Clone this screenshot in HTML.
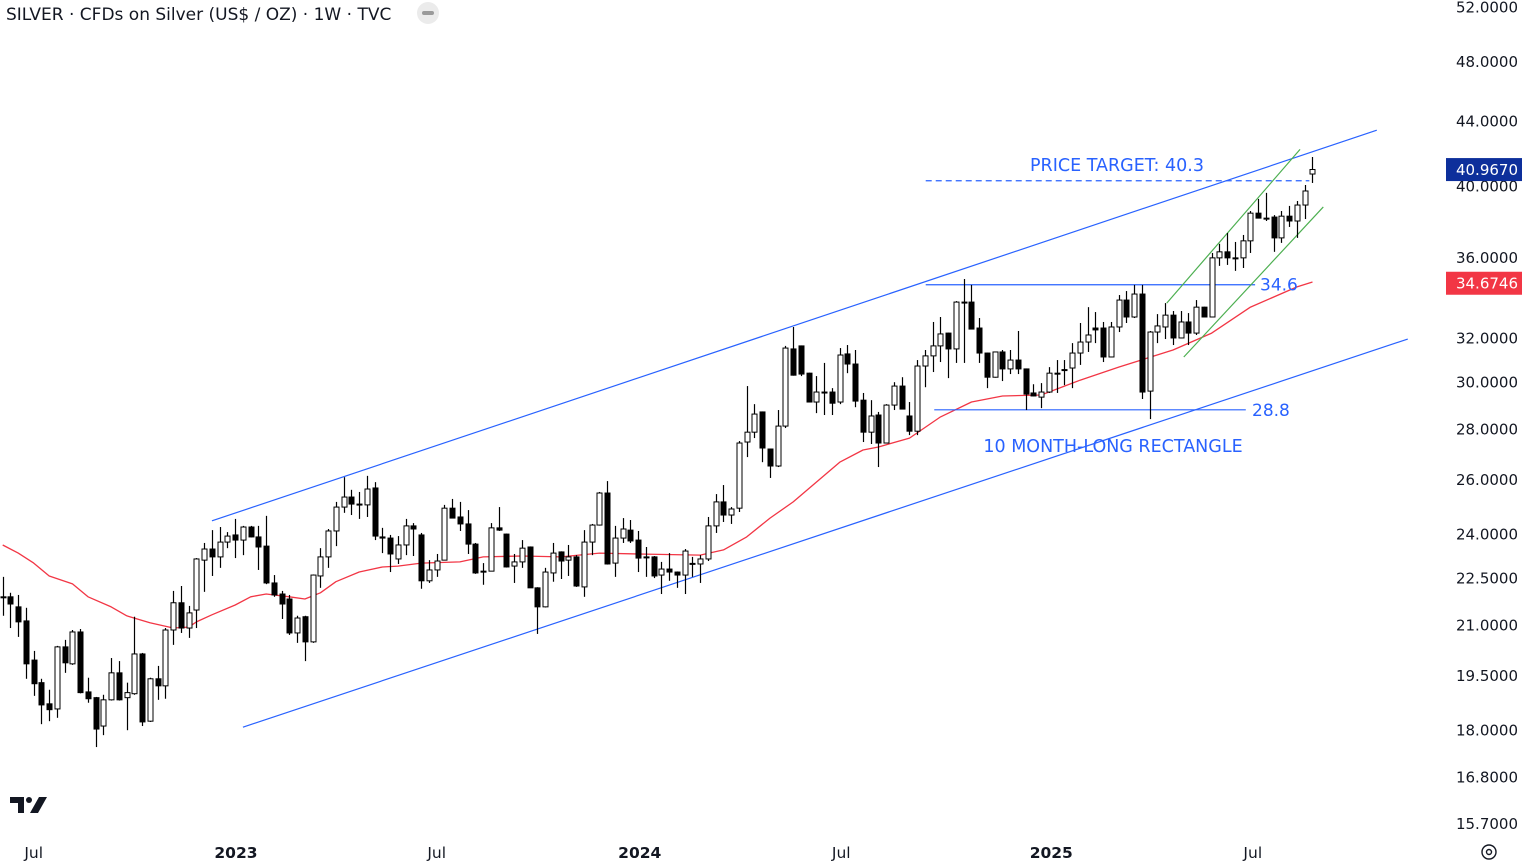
<!DOCTYPE html>
<html><head><meta charset="utf-8">
<style>
html,body{margin:0;padding:0;background:#fff;}
#wrap{position:relative;width:1522px;height:863px;overflow:hidden;font-family:"DejaVu Sans","Liberation Sans",sans-serif;}
svg text{font-family:"DejaVu Sans","Liberation Sans",sans-serif;}
</style></head>
<body>
<div id="wrap">
<svg id="chart" width="1522" height="863" xmlns="http://www.w3.org/2000/svg">
  <text x="6" y="20" font-size="17" fill="#131722">SILVER · CFDs on Silver (US$ / OZ) · 1W · TVC</text>
  <g>
    <circle cx="428" cy="13" r="11" fill="#ebebeb"/>
    <rect x="422" y="11" width="12" height="4" rx="2" fill="#9a9a9a"/>
  </g>
  <g fill="#131722">
    <path d="M10 797h14v16h-6v-10h-8z"/>
    <circle cx="29" cy="800" r="3"/>
    <path d="M39 797h8l-9 16h-8z"/>
  </g>
  <g fill="none" stroke="#131722" stroke-width="1.4">
    <circle cx="1489" cy="852" r="7"/>
    <circle cx="1489" cy="852" r="2.5"/>
  </g>
</svg>
</div>
<script>
// ---- data (weekly OHLC, index 0 = first visible week) ----
const opens  = [21.89,21.89,21.57,21.13,19.95,19.30,18.71,18.57,20.34,19.84,20.79,19.04,18.88,18.11,18.82,19.58,18.88,18.99,20.13,18.24,19.41,19.21,20.85,21.70,20.91,21.47,23.10,23.48,23.21,23.72,23.97,23.79,24.25,23.90,23.58,22.34,21.98,21.82,20.76,21.26,20.49,22.57,23.21,24.11,24.97,25.34,25.08,25.05,25.68,23.90,23.86,23.14,23.62,24.29,23.97,22.41,22.77,23.10,24.93,24.61,24.36,23.65,22.73,22.73,24.22,24.00,22.90,23.04,23.55,22.18,21.57,22.67,23.38,23.10,23.21,22.21,23.72,24.32,25.49,23.00,23.86,24.14,23.79,23.21,23.21,22.60,22.80,22.70,22.60,22.97,22.97,23.14,24.29,25.16,24.68,24.93,27.47,27.87,28.71,27.19,26.52,28.12,31.49,31.63,30.39,29.13,29.56,29.56,29.13,31.26,30.80,29.21,27.87,28.58,27.43,29.00,29.82,28.54,27.91,30.71,31.17,31.63,32.23,31.49,33.73,33.73,32.47,31.30,30.21,31.35,30.58,30.98,30.58,29.52,29.34,29.56,30.39,30.53,30.62,31.30,31.81,32.47,32.47,31.12,32.52,33.83,33.00,34.13,29.60,32.28,32.52,33.09,32.00,32.76,32.23,33.48,33.00,35.99,36.31,35.99,35.99,36.90,38.43,38.15,38.21,37.06,38.26,37.99,38.89,40.70];
const highs  = [22.54,22.02,21.95,21.54,20.22,19.41,19.10,20.37,20.55,20.85,20.88,19.44,18.90,18.96,20.01,19.92,19.30,21.26,20.16,19.44,19.78,20.91,22.08,22.24,21.60,23.17,23.69,24.14,24.25,24.07,24.54,24.29,24.29,24.29,24.65,22.60,22.08,21.95,21.29,21.29,22.62,23.51,24.18,25.16,26.09,25.61,25.53,26.14,25.90,24.22,23.97,23.93,24.54,24.39,24.04,23.10,23.31,25.05,25.27,25.16,24.86,23.69,23.00,24.39,24.97,24.02,23.31,23.79,23.57,22.20,22.84,23.69,23.40,23.62,23.27,24.14,24.36,25.53,25.94,24.29,24.57,24.50,24.11,23.55,23.24,23.04,23.34,22.72,23.48,23.21,23.27,24.61,25.45,25.79,24.97,27.51,29.82,29.04,28.73,27.21,28.79,31.63,32.52,31.65,30.41,30.26,30.85,29.73,31.53,31.67,31.44,29.52,29.21,28.71,29.04,29.99,30.21,29.13,30.98,31.44,32.76,33.00,32.25,33.78,34.89,34.59,32.95,31.32,31.37,31.44,31.44,32.33,30.60,29.90,29.95,30.66,30.98,30.98,31.76,32.71,33.48,33.24,32.76,32.76,34.08,34.28,34.59,34.59,32.33,33.14,33.68,33.29,33.29,33.19,33.83,33.50,36.25,36.74,37.33,36.84,37.22,38.55,39.24,39.59,38.32,38.55,38.84,39.12,40.05,41.73];
const lows   = [21.29,20.91,20.64,19.41,18.93,18.16,18.24,18.33,19.58,19.81,19.00,18.74,17.56,17.87,18.80,18.80,18.00,18.96,18.11,18.22,18.82,18.85,20.40,20.76,20.61,20.91,22.05,22.57,22.84,23.51,23.17,23.27,23.88,22.77,22.30,21.89,21.19,20.70,20.46,19.92,20.46,22.18,22.84,23.58,24.76,24.68,24.54,24.61,23.79,23.34,22.70,22.97,23.27,23.24,22.15,22.34,22.54,23.10,24.57,24.11,23.31,22.64,22.28,22.73,24.11,22.85,22.34,22.84,22.18,20.73,21.55,22.38,22.47,22.57,22.21,21.89,23.27,24.30,22.95,22.54,23.69,23.69,22.70,22.54,22.50,21.98,22.41,22.18,21.98,22.54,22.34,23.07,24.04,24.43,24.36,24.79,26.87,27.63,26.67,26.06,26.48,28.04,30.28,30.26,29.11,28.66,28.58,28.58,29.04,30.39,28.91,27.47,27.39,26.48,27.41,28.79,28.83,27.75,27.75,29.77,30.44,30.89,30.17,30.85,30.85,32.40,30.85,29.73,30.19,30.04,30.35,30.35,28.79,29.37,28.87,29.52,29.52,29.86,29.73,30.76,31.35,31.76,30.89,31.10,32.28,32.71,32.95,29.26,28.41,31.76,31.95,31.67,31.98,31.67,32.14,33.00,32.98,35.57,35.62,35.31,35.46,36.25,38.13,37.99,36.31,36.79,37.66,37.06,38.10,40.17];
const closes = [21.86,21.66,21.10,19.84,19.27,18.68,18.55,20.34,19.87,20.79,19.02,18.85,18.03,18.82,19.58,18.82,19.02,20.13,18.22,19.41,19.21,20.85,21.70,20.91,21.38,23.14,23.48,23.21,23.72,23.93,23.79,24.25,23.90,23.55,22.34,21.95,21.66,20.76,21.22,20.49,22.60,23.21,24.11,24.97,25.34,25.08,25.05,25.64,23.93,23.86,23.31,23.62,24.29,24.18,22.41,22.77,23.07,24.93,24.57,24.36,23.65,22.67,22.70,24.22,24.14,22.87,23.04,23.51,22.18,21.57,22.70,23.34,23.07,23.21,22.24,23.72,24.32,25.49,22.97,23.86,24.18,23.76,23.17,23.19,22.57,22.80,22.70,22.60,23.41,22.99,23.14,24.29,25.16,24.68,24.90,27.43,27.87,28.62,27.23,26.52,28.12,31.53,30.30,30.35,29.13,29.56,29.52,29.08,31.21,30.80,29.17,27.87,28.54,27.43,29.00,29.82,28.83,27.91,30.71,31.17,31.63,32.19,31.49,33.73,33.71,32.42,31.30,30.21,31.35,30.58,30.98,30.58,29.47,29.39,29.56,30.39,30.35,30.55,31.30,31.81,32.14,32.38,31.12,32.52,33.83,33.00,34.13,29.56,32.28,32.57,33.09,32.00,32.76,32.23,33.48,33.00,35.99,36.31,35.99,35.97,36.90,38.43,38.15,38.13,37.06,38.26,37.99,38.89,39.70,40.97];
// moving average (read at selected week indices)
const maIdx = [0,2,4,6,9,11,14,16,19,22,24,25,27,30,32,34,37,39,41,43,46,49,51,54,59,62,67,72,77,82,90,93,96,99,102,108,111,113,117,121,125,129,134,139,144,151,156,161,167,169];
const maVal = [23.62,23.34,23.00,22.57,22.31,21.89,21.57,21.29,21.07,20.91,20.94,21.10,21.32,21.63,21.89,21.98,21.89,21.82,22.02,22.38,22.70,22.87,22.90,23.00,23.04,23.21,23.24,23.21,23.34,23.31,23.27,23.45,23.90,24.57,25.16,26.67,27.15,27.27,27.63,28.50,29.13,29.39,29.43,30.08,30.66,31.44,32.23,33.48,34.49,34.74];
// price-axis ticks
const tickPrices = [52,48,44,40,36,32,30,28,26,24,22.5,21,19.5,18,16.8,15.7];
const tickLabels = ["52.0000","48.0000","44.0000","40.0000","36.0000","32.0000","30.0000","28.0000","26.0000","24.0000","22.5000","21.0000","19.5000","18.0000","16.8000","15.7000"];
// time-axis labels (week index)
const timeIdx = [4.0,30.1,56.0,82.2,108.2,135.3,161.3];
const timeLabels = ["Jul","2023","Jul","2024","Jul","2025","Jul"];
const timeBold = [false,true,false,true,false,true,false];
// annotation lines: [startIdx, startPrice, endIdx, endPrice]
const upperChannel = [27.0,24.47,177.3,43.40];
const lowerChannel = [31.0,18.08,181.3,31.95];
const resistance = [119.1,34.6,161.6,34.6];
const support = [120.2,28.8,160.4,28.8];
const target = [119.1,40.3,168.6,40.3];
const greenUpper = [150.2,33.68,167.4,42.2];
const greenLower = [152.4,31.12,170.4,38.78];
const lastPrice = 40.967;
const maLast = 34.6746;

// ---- scales ----
const X0 = 2.7, DX = 7.75;
function xs(i){ return X0 + DX*i; }
function ys(p){ return 7 + 681.7*Math.log(52/p); }

const svg = document.getElementById('chart');
const NS = 'http://www.w3.org/2000/svg';
function mk(tag, attrs, parent){
  const e = document.createElementNS(NS, tag);
  for (const k in attrs) e.setAttribute(k, attrs[k]);
  (parent||svg).appendChild(e);
  return e;
}

// price axis labels
const axisG = mk('g', {});


tickPrices.forEach((p,k)=>{
  const t = mk('text', {x:1518, y:ys(p)+5.5, 'text-anchor':'end', 'font-size':15, fill:'#131722'}, axisG);
  t.textContent = tickLabels[k];
  
  
});
// time axis labels
const timeG = mk('g', {});


timeIdx.forEach((i,k)=>{
  const t = mk('text', {x:xs(i), y:858, 'text-anchor':'middle', 'font-size':15.5, fill:'#131722', 'font-weight': timeBold[k]?'bold':'normal'}, timeG);
  t.textContent = timeLabels[k];
  
  
});

// moving average line
let d = '';
maIdx.forEach((i,k)=>{ d += (k?'L':'M') + xs(i).toFixed(1) + ' ' + ys(maVal[k]).toFixed(1); });
const ma = mk('path', {d:d, fill:'none', stroke:'#f23645', 'stroke-width':1.3, 'stroke-linejoin':'round'});



// annotation lines
function seg(a, color, name, dash){
  const l = mk('line', {x1:xs(a[0]), y1:ys(a[1]), x2:xs(a[2]), y2:ys(a[3]), stroke:color, 'stroke-width':1.2});
  if (dash) l.setAttribute('stroke-dasharray', dash);
  
  
}
seg(upperChannel, '#2962ff', 'upper-channel-line');
seg(lowerChannel, '#2962ff', 'lower-channel-line');
seg(resistance, '#2962ff', 'resistance-line-34-6');
seg(support, '#2962ff', 'support-line-28-8');
seg(target, '#2962ff', 'price-target-line', '6 4');
seg(greenUpper, '#4caf50', 'flag-upper-line');
seg(greenLower, '#4caf50', 'flag-lower-line');

// candles
const cg = mk('g', {});


closes.forEach((c,i)=>{
  const o = opens[i], h = highs[i], l = lows[i];
  const x = Math.round(xs(i)) + 0.5;
  const up = c >= o;
  const g = mk('g', {}, cg);
  
  
  const top = ys(Math.max(o,c)), bot = ys(Math.min(o,c));
  mk('line', {x1:x, y1:ys(h), x2:x, y2:top, stroke:'#000', 'stroke-width':1.2}, g);
  mk('line', {x1:x, y1:bot, x2:x, y2:ys(l), stroke:'#000', 'stroke-width':1.2}, g);
  const bh = Math.max(bot-top, 1);
  mk('rect', {x:x-2.5, y:top, width:5, height:bh, fill: up?'#fff':'#000', stroke:'#000', 'stroke-width':1}, g);
});

// text annotations
function label(txt, x, y, name, size, anchor){
  const t = mk('text', {x:x, y:y, 'font-size':size, fill:'#2962ff', 'text-anchor':anchor||'start'});
  t.textContent = txt;
  
  
}
label('PRICE TARGET: 40.3', 1117, ys(40.3)-10, 'price-target-label', 17.5, 'middle');
label('34.6', 1260, ys(34.6)+6, 'resistance-label', 17, 'start');
label('28.8', 1252, ys(28.8)+6, 'support-label', 17, 'start');
label('10 MONTH-LONG RECTANGLE', 1113, ys(28.8)+42, 'rectangle-label', 17.5, 'middle');

// price tags
function tag(p, bg, txt, name){
  const g = mk('g', {});
  
  
  const y = ys(p);
  mk('rect', {x:1446, y:y-11.5, width:76, height:23, fill:bg}, g);
  const t = mk('text', {x:1518, y:y+5.5, 'text-anchor':'end', 'font-size':15, fill:'#fff'}, g);
  t.textContent = txt;
}
tag(lastPrice, '#0d2f9b', lastPrice.toFixed(4), 'last-price-tag');
tag(maLast, '#f23645', maLast.toFixed(4), 'moving-average-tag');
</script>
</body></html>
